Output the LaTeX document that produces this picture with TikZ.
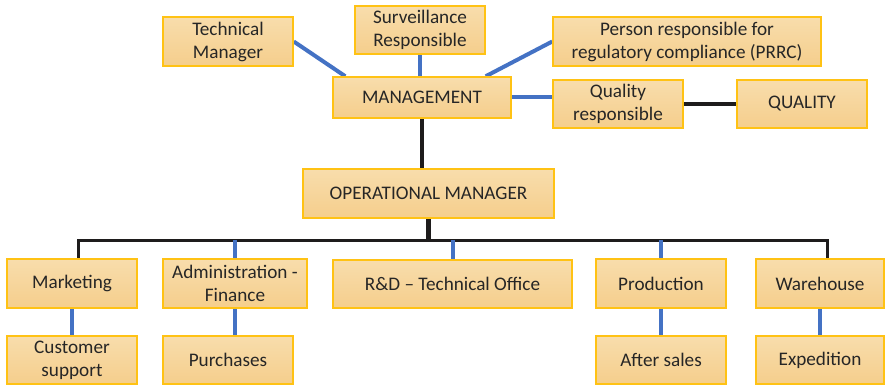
\documentclass[tikz,border=0pt]{standalone}
\usepackage{fontspec}
\setmainfont{Carlito}
\usetikzlibrary{backgrounds}
\definecolor{boxtop}{RGB}{248,221,172}
\definecolor{boxbot}{RGB}{245,206,140}
\definecolor{boxline}{RGB}{255,194,20}
\definecolor{lnblue}{RGB}{68,114,196}
\definecolor{lnblack}{RGB}{30,28,28}
\definecolor{txt}{RGB}{38,38,38}
\tikzset{
  orgbox/.style={draw=boxline, line width=1.5pt, top color=boxtop, bottom color=boxbot,
    align=center, text=txt, inner sep=2pt, font=\fontsize{19.2}{23}\selectfont},
  bluelink/.style={draw=lnblue, line width=4pt},
  blacklink/.style={draw=lnblack, line width=4.5pt},
  buslink/.style={draw=lnblack, line width=3pt}
}
\begin{document}
\begin{tikzpicture}[x=1pt,y=-1pt]
\useasboundingbox (0,0) rectangle (885,385);
\node[orgbox, minimum width=130pt, minimum height=49pt] (tm) at (228,41.5) {Technical\\Manager};
\node[orgbox, minimum width=130pt, minimum height=48pt] (sr) at (420,30) {Surveillance\\Responsible};
\node[orgbox, minimum width=178pt, minimum height=41pt] (mg) at (422,97.5) {MANAGEMENT};
\node[orgbox, minimum width=268pt, minimum height=49pt] (prrc) at (687,41.5) {Person responsible for\\regulatory compliance (PRRC)};
\node[orgbox, minimum width=130pt, minimum height=48pt] (qr) at (618,104) {Quality\\responsible};
\node[orgbox, minimum width=130pt, minimum height=48pt] (q) at (802,104) {QUALITY};
\node[orgbox, minimum width=251pt, minimum height=49pt] (om) at (428.5,193.5) {OPERATIONAL MANAGER};
\node[orgbox, minimum width=130pt, minimum height=49pt] (mk) at (72,283.5) {Marketing};
\node[orgbox, minimum width=144pt, minimum height=49pt] (af) at (235,283.5) {Administration -\\Finance};
\node[orgbox, minimum width=239pt, minimum height=48pt] (rd) at (452.5,284) {R\&D -- Technical Office};
\node[orgbox, minimum width=130pt, minimum height=49pt] (pr) at (661,283.5) {Production};
\node[orgbox, minimum width=128pt, minimum height=49pt] (wh) at (820,283.5) {Warehouse};
\node[orgbox, minimum width=130pt, minimum height=48pt] (cs) at (72,360) {Customer\\support};
\node[orgbox, minimum width=130pt, minimum height=48pt] (pu) at (228,360) {Purchases};
\node[orgbox, minimum width=130pt, minimum height=48pt] (as) at (661,360) {After sales};
\node[orgbox, minimum width=128pt, minimum height=48pt] (ex) at (820,360) {Expedition};
\coordinate (busL) at (78,240);
\coordinate (busR) at (827,240);
\begin{pgfonlayer}{background}
\draw[bluelink] (tm.east) -- ([xshift=13pt]mg.north west);
\draw[bluelink] (sr.south) -- (sr.south |- mg.north);
\draw[bluelink] (prrc.west) -- ([xshift=-26pt]mg.north east);
\draw[bluelink] (mg.east) -- (mg.east -| qr.west);
\draw[blacklink] (qr.east) -- (q.west);
\draw[blacklink] (mg.south) -- (mg.south |- om.north);
\draw[blacklink] (om.south) -- (om.south |- busL);
\draw[buslink] (mk.north -| busL) -- (busL) -- (busR) -- (wh.north -| busR);
\draw[bluelink] (af.north) -- (af.north |- busL);
\draw[bluelink] (rd.north) -- (rd.north |- busL);
\draw[bluelink] (pr.north) -- (pr.north |- busL);
\draw[bluelink] (mk.south) -- (mk.south |- cs.north);
\draw[bluelink] (af.south) -- (af.south |- pu.north);
\draw[bluelink] (pr.south) -- (pr.south |- as.north);
\draw[bluelink] (wh.south) -- (wh.south |- ex.north);
\end{pgfonlayer}
\end{tikzpicture}
\end{document}
